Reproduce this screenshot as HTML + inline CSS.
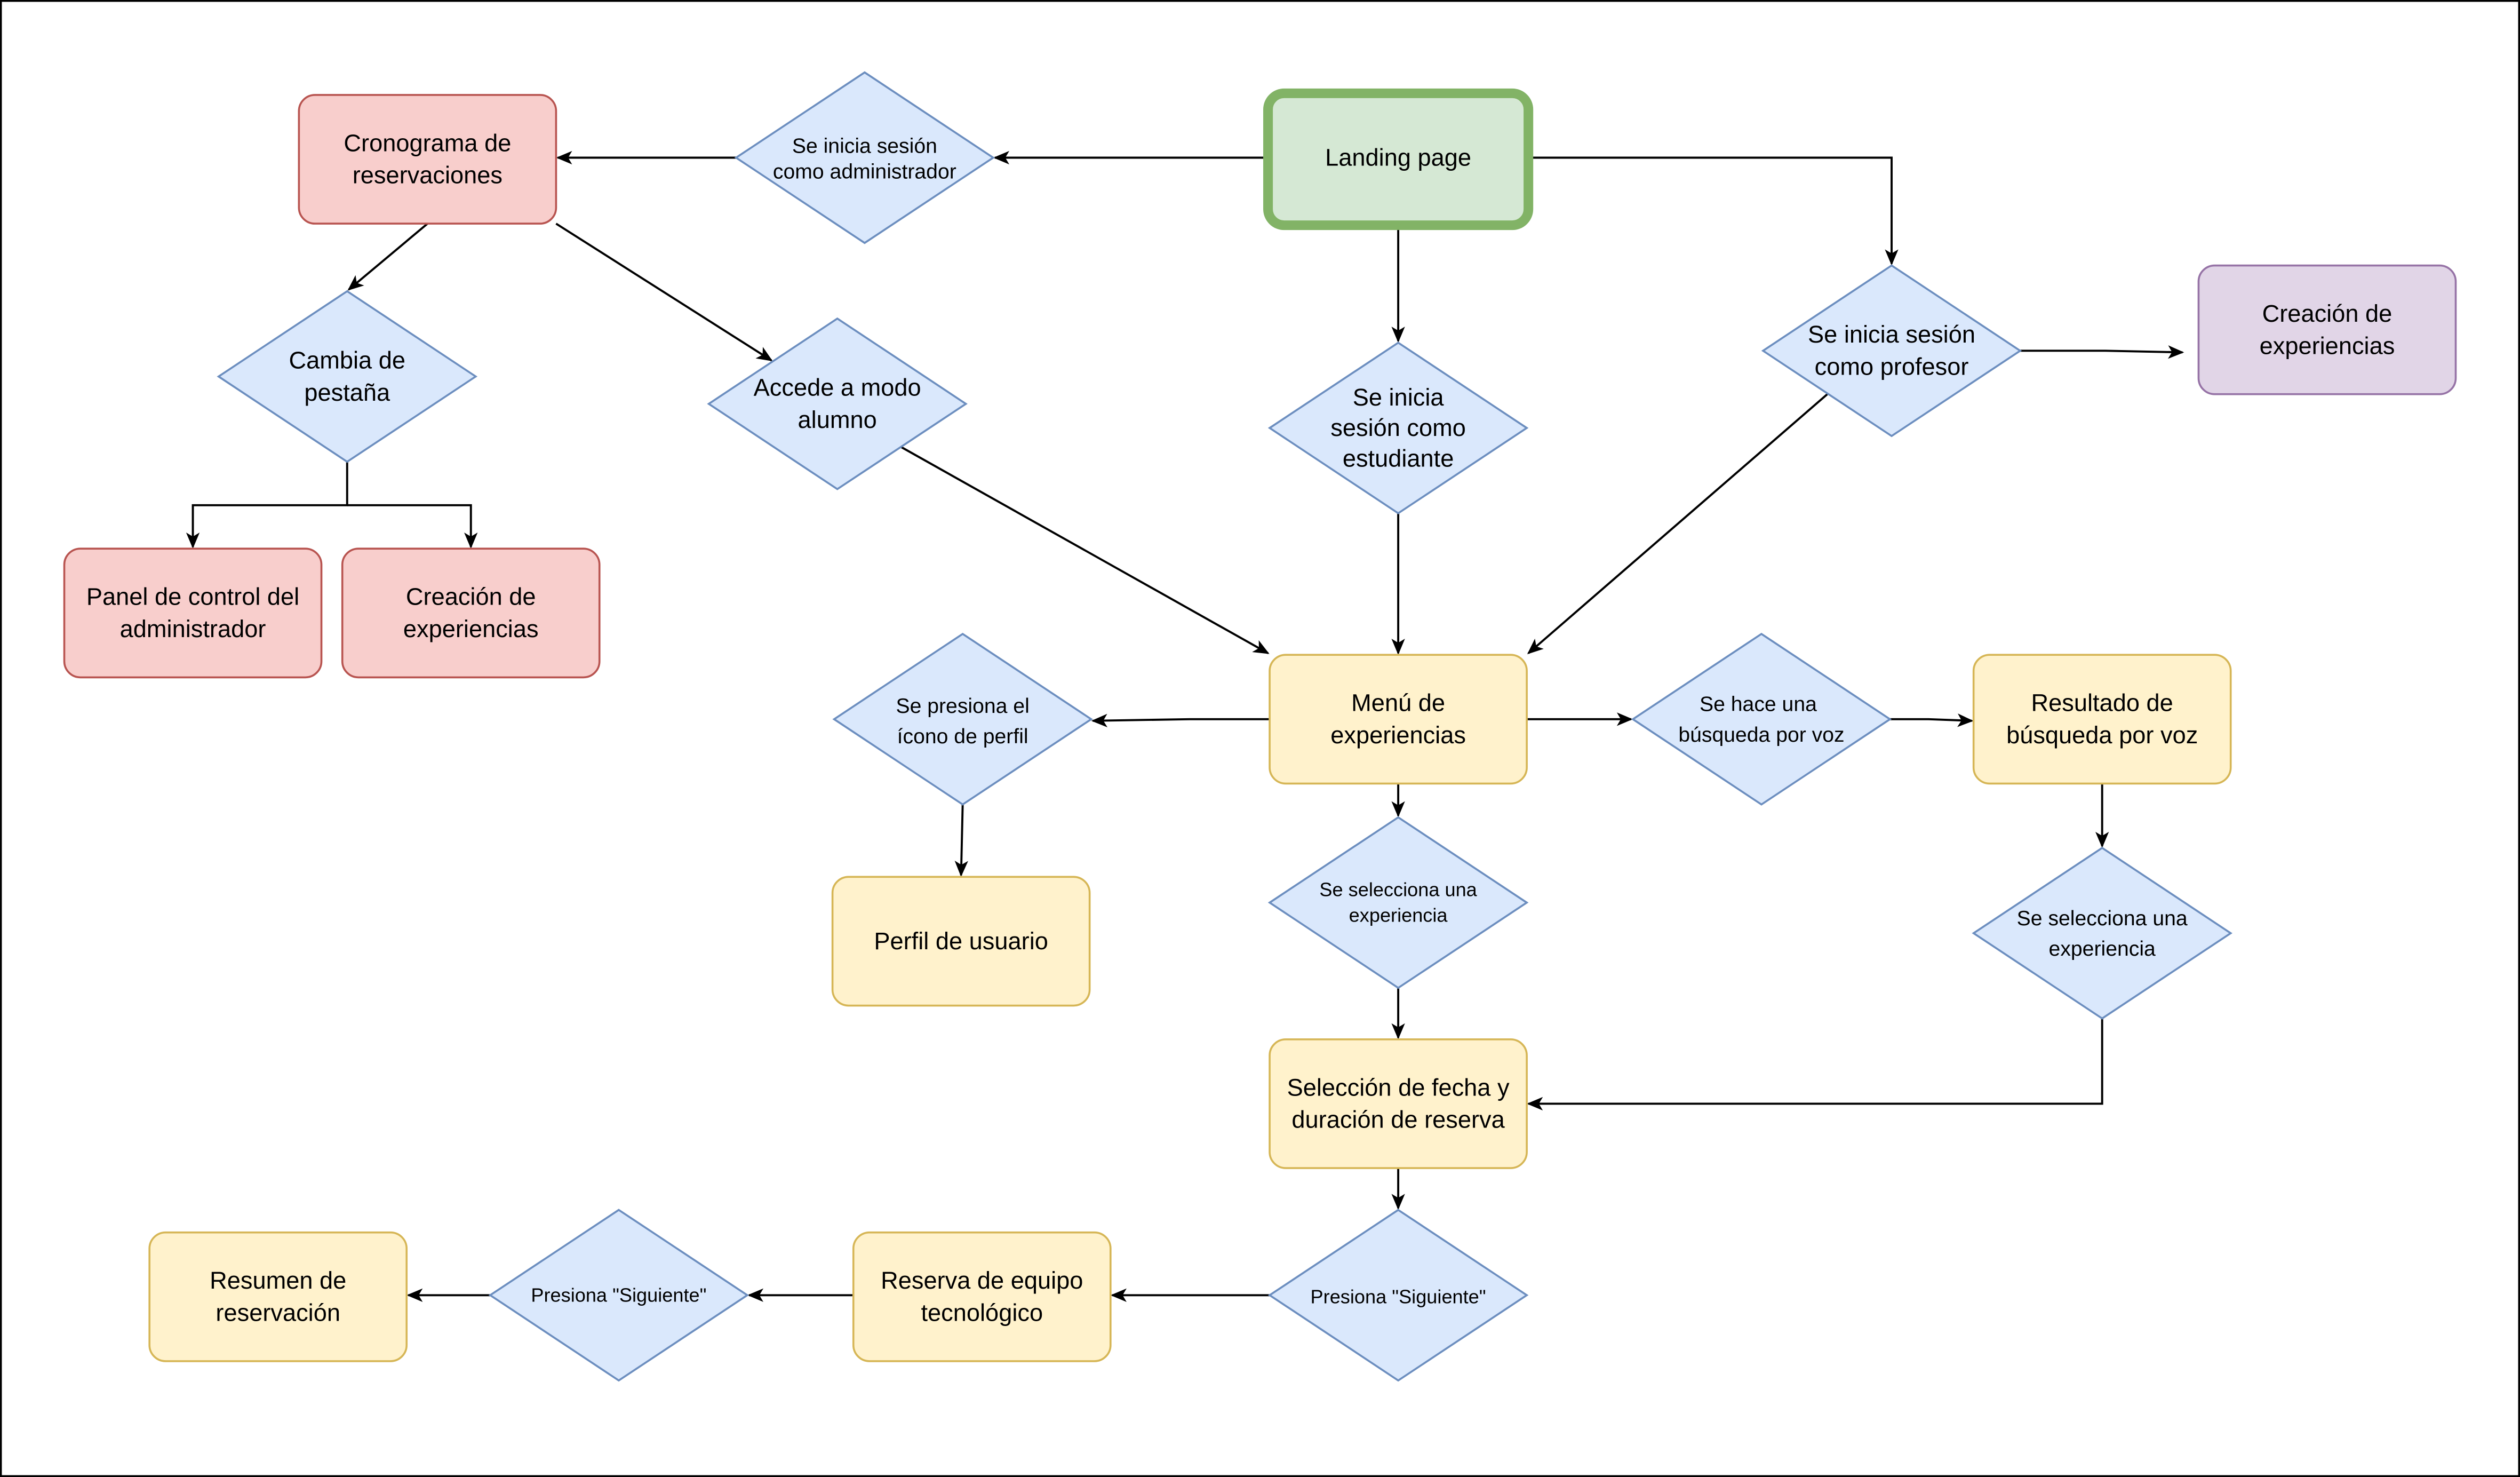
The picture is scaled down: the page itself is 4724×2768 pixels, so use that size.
<!DOCTYPE html>
<html><head><meta charset="utf-8"><style>
html,body{margin:0;padding:0;background:#fff}
svg{display:block}
text{font-family:"Liberation Sans",Arial,sans-serif;fill:#000}
</style></head><body>
<svg width="4724" height="2768" viewBox="0 0 1568 918" preserveAspectRatio="none" xmlns="http://www.w3.org/2000/svg">
<defs>
<marker id="a" markerWidth="10" markerHeight="10" refX="9" refY="5" orient="auto" markerUnits="userSpaceOnUse">
<path d="M0,0.8 L10,5 L0,9.2 L2.5,5 Z" fill="#000"/>
</marker>
</defs>
<rect x="0.5" y="0.5" width="1567" height="917" fill="#fff" stroke="#000" stroke-width="1.3"/>

<g fill="none" stroke="#000" stroke-width="1.3" marker-end="url(#a)">
<path d="M789,98 H619"/>
<path d="M458,98 H347"/>
<path d="M266,139 L217,180"/>
<path d="M346,139 L480,224"/>
<path d="M216,287 V314 H120 V340"/>
<path d="M216,314 H293 V340"/>
<path d="M870,140 V212"/>
<path d="M951,98 H1177 V164"/>
<path d="M1257,218 H1310 L1358,219"/>
<path d="M1137,245 L951,406"/>
<path d="M561,278 L789,406"/>
<path d="M870,319 V406"/>
<path d="M790,447 H740 L680,448"/>
<path d="M599,500 L598,544"/>
<path d="M950,447 H1015"/>
<path d="M1176,447 H1200 L1227,448"/>
<path d="M1308,487 V526"/>
<path d="M1308,633 V686 H951"/>
<path d="M870,487 V507"/>
<path d="M870,614 V645"/>
<path d="M870,726 V751"/>
<path d="M790,805 H692"/>
<path d="M531,805 H466"/>
<path d="M305,805 H254"/>
</g>

<!-- Rects -->
<rect x="789" y="58" width="162" height="82" rx="10" fill="#d5e8d4" stroke="#82b366" stroke-width="6"/>
<rect x="186" y="59" width="160" height="80" rx="10" fill="#f8cecc" stroke="#b85450" stroke-width="1.2"/>
<rect x="40" y="341" width="160" height="80" rx="10" fill="#f8cecc" stroke="#b85450" stroke-width="1.2"/>
<rect x="213" y="341" width="160" height="80" rx="10" fill="#f8cecc" stroke="#b85450" stroke-width="1.2"/>
<rect x="1368" y="165" width="160" height="80" rx="10" fill="#e1d5e7" stroke="#9673a6" stroke-width="1.2"/>
<g fill="#fff2cc" stroke="#d6b656" stroke-width="1.2">
<rect x="790" y="407" width="160" height="80" rx="10"/>
<rect x="518" y="545" width="160" height="80" rx="10"/>
<rect x="1228" y="407" width="160" height="80" rx="10"/>
<rect x="790" y="646" width="160" height="80" rx="10"/>
<rect x="531" y="766" width="160" height="80" rx="10"/>
<rect x="93" y="766" width="160" height="80" rx="10"/>
</g>

<!-- Diamonds -->
<g fill="#dae8fc" stroke="#6c8ebf" stroke-width="1.2">
<path d="M538,45 L618,98 L538,151 L458,98 Z"/>
<path d="M216,181 L296,234 L216,287 L136,234 Z"/>
<path d="M521,198 L601,251 L521,304 L441,251 Z"/>
<path d="M870,213 L950,266 L870,319 L790,266 Z"/>
<path d="M1177,165 L1257,218 L1177,271 L1097,218 Z"/>
<path d="M599,394 L679,447 L599,500 L519,447 Z"/>
<path d="M1096,394 L1176,447 L1096,500 L1016,447 Z"/>
<path d="M1308,527 L1388,580 L1308,633 L1228,580 Z"/>
<path d="M870,508 L950,561 L870,614 L790,561 Z"/>
<path d="M870,752 L950,805 L870,858 L790,805 Z"/>
<path d="M385,752 L465,805 L385,858 L305,805 Z"/>
</g>

<g font-size="15" text-anchor="middle">
<text x="870" y="103">Landing page</text>
<text x="266" y="94">Cronograma de</text><text x="266" y="114">reservaciones</text>
<text x="120" y="376">Panel de control del</text><text x="120" y="396">administrador</text>
<text x="293" y="376">Creación de</text><text x="293" y="396">experiencias</text>
<text x="1448" y="200">Creación de</text><text x="1448" y="220">experiencias</text>
<text x="870" y="442">Menú de</text><text x="870" y="462">experiencias</text>
<text x="598" y="590">Perfil de usuario</text>
<text x="1308" y="442">Resultado de</text><text x="1308" y="462">búsqueda por voz</text>
<text x="870" y="681">Selección de fecha y</text><text x="870" y="701">duración de reserva</text>
<text x="611" y="801">Reserva de equipo</text><text x="611" y="821">tecnológico</text>
<text x="173" y="801">Resumen de</text><text x="173" y="821">reservación</text>
<text x="216" y="229">Cambia de</text><text x="216" y="249">pestaña</text>
<text x="521" y="246">Accede a modo</text><text x="521" y="266">alumno</text>
<text x="870" y="252">Se inicia</text><text x="870" y="271">sesión como</text><text x="870" y="290">estudiante</text>
<text x="1177" y="213">Se inicia sesión</text><text x="1177" y="233">como profesor</text>
</g>
<g font-size="13" text-anchor="middle">
<text x="538" y="95">Se inicia sesión</text><text x="538" y="111">como administrador</text>
<text x="599" y="443">Se presiona el</text><text x="599" y="462">ícono de perfil</text>
<text x="1094" y="442">Se hace una</text><text x="1096" y="461">búsqueda por voz</text>
<text x="1308" y="575">Se selecciona una</text><text x="1308" y="594">experiencia</text>
</g>
<g font-size="12" text-anchor="middle">
<text x="870" y="557">Se selecciona una</text><text x="870" y="573">experiencia</text>
<text x="870" y="810">Presiona "Siguiente"</text>
<text x="385" y="809">Presiona "Siguiente"</text>
</g>
</svg>
</body></html>
